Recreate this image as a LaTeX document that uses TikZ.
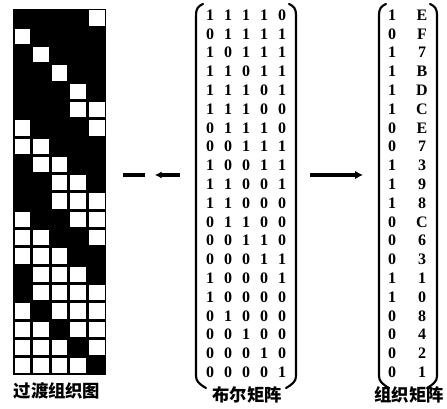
\documentclass[tikz,border=0pt]{standalone}
\usepackage{fontspec}
\setmainfont{Liberation Serif}
\newfontfamily\cjk{Noto Sans CJK SC}
\usetikzlibrary{arrows.meta}
\tikzset{
  num/.style={inner sep=0pt,font=\fontsize{12pt}{12pt}\selectfont\bfseries},
  lbl/.style={inner sep=0pt,font=\cjk\fontsize{13pt}{13pt}\selectfont\bfseries},
  brk/.style={line width=1.6pt,line cap=round},
  arr/.style={line width=2.6pt},
  whitecell/.style={fill=white,draw=none}
}
\begin{document}
\begin{tikzpicture}[x=0.75pt,y=-0.75pt]
\useasboundingbox (0,0) rectangle (447,409);
% ---- transition weave grid ----
\fill[black] (13,9) rectangle (106,375);
\foreach \r [count=\j] in {{1,1,1,1,0},{0,1,1,1,1},{1,0,1,1,1},{1,1,0,1,1},{1,1,1,0,1},
  {1,1,1,0,0},{0,1,1,1,0},{0,0,1,1,1},{1,0,0,1,1},{1,1,0,0,1},
  {1,1,0,0,0},{0,1,1,0,0},{0,0,1,1,0},{0,0,0,1,1},{1,0,0,0,1},
  {1,0,0,0,0},{0,1,0,0,0},{0,0,1,0,0},{0,0,0,1,0},{0,0,0,0,1}}{
  \foreach \v [count=\i] in \r {
    \pgfmathsetmacro\xa{13+18.6*(\i-1)}
    \pgfmathsetmacro\ya{9+18.3*(\j-1)}
    \ifnum\v=0
      \fill[whitecell] ({\xa+1.5},{\ya+1.5}) rectangle ({\xa+18.6-1.5},{\ya+18.3-1.5});
    \fi
    \node[num] (m-\j-\i) at ({210+18*(\i-1)},{15+18.8*(\j-1)}) {\v};
  }
}
\node[lbl] (lblA) at (57,391) {过渡组织图};
% ---- boolean matrix brackets ----
\draw[brk] (203,4) .. controls (198,6) and (196,9) .. (196,15) -- (196,376) .. controls (196,381) and (199,384) .. (206,388);
\draw[brk] (289,4) .. controls (294,6) and (296,9) .. (296,15) -- (296,376) .. controls (296,381) and (293,384) .. (286,388);
\node[lbl] (lblB) at (247,395) {布尔矩阵};
% ---- organisation matrix ----
\foreach \b/\h [count=\j] in {1/E,0/F,1/7,1/B,1/D,1/C,0/E,0/7,1/3,1/9,1/8,0/C,0/6,0/3,1/1,1/0,0/8,0/4,0/2,0/1}{
  \node[num] (b-\j) at (392,{15+18.8*(\j-1)}) {\b};
  \node[num] (h-\j) at (422,{15+18.8*(\j-1)}) {\h};
}
\draw[brk] (386,4) .. controls (381,6) and (379,9) .. (379,15) -- (379,376) .. controls (379,381) and (382,384) .. (389,388);
\draw[brk] (430,4) .. controls (435,6) and (437,9) .. (437,15) -- (437,376) .. controls (437,381) and (434,384) .. (427,388);
\node[lbl] (lblC) at (409,395) {组织矩阵};
% ---- arrows ----
\coordinate (a1) at (123,175);
\coordinate (a2) at (145,175);
\coordinate (a3) at (155,175);
\coordinate (a4) at (180,175);
\coordinate (c1) at (310,175);
\coordinate (c2) at (363,175);
\draw[arr] (a1) -- (a2);
\draw[arr,{Latex[length=5pt,width=5.5pt]}-] (a3) -- (a4);
\draw[arr,-{Latex[length=6pt,width=6.5pt]}] (c1) -- (c2);
\end{tikzpicture}
\end{document}
